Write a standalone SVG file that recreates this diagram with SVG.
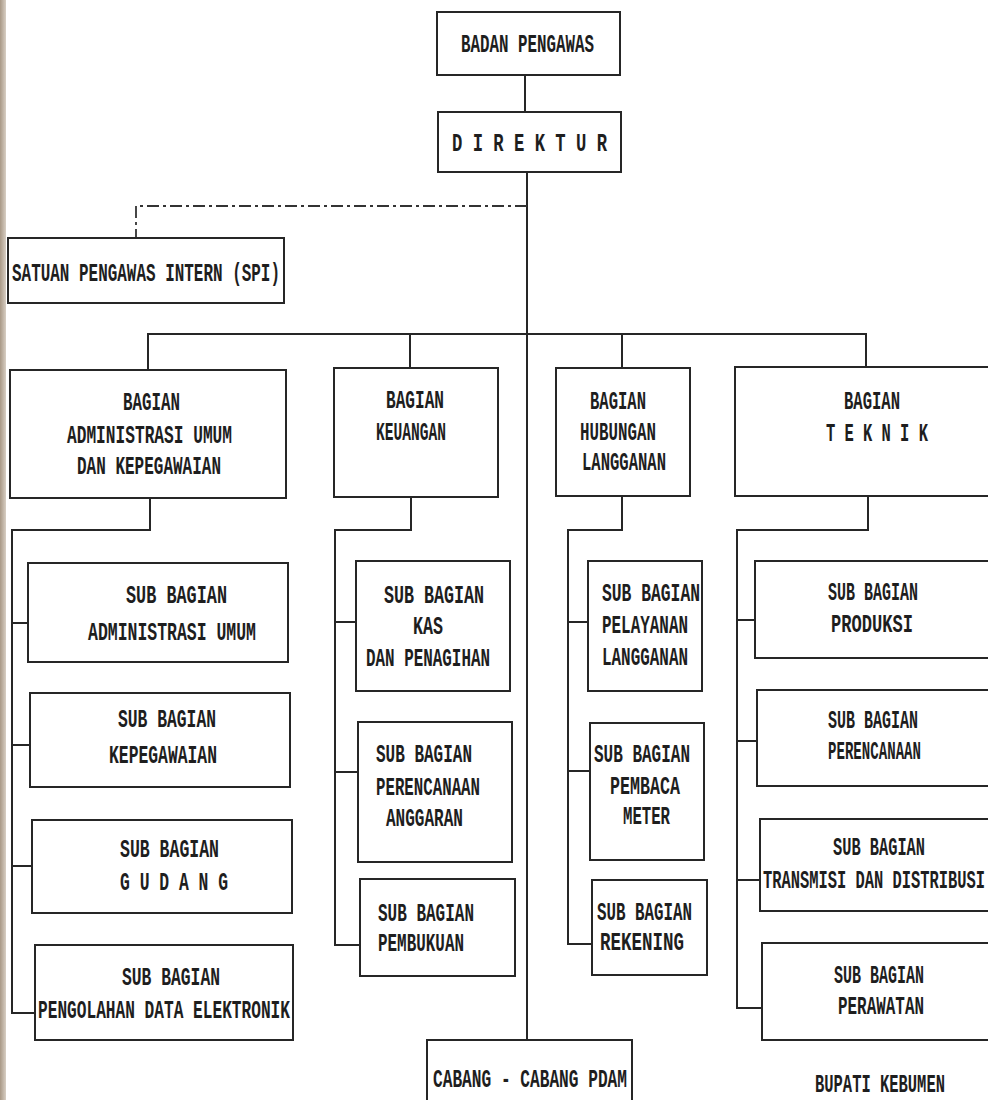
<svg xmlns="http://www.w3.org/2000/svg" width="988" height="1100" viewBox="0 0 988 1100">
<defs>
<linearGradient id="edge" x1="0" y1="0" x2="1" y2="0">
<stop offset="0" stop-color="#a89886"/>
<stop offset="1" stop-color="#d8cfc4"/>
</linearGradient>
</defs>
<style>
.b{fill:#fff;stroke:#262626;stroke-width:2}
.c{fill:none;stroke:#262626;stroke-width:2}
.d{fill:none;stroke:#333;stroke-width:1.8;stroke-dasharray:12 4 3 4}
.t{font-family:"Liberation Mono","DejaVu Sans Mono",monospace;font-weight:bold;font-size:25px;fill:#1e1e1e}
</style>
<rect x="0" y="0" width="988" height="1100" fill="#fff"/>
<rect x="0" y="0" width="6" height="1100" fill="url(#edge)"/>

<g id="connectors">
<line class="c" x1="525" y1="75" x2="525" y2="112"/>
<line class="c" x1="527" y1="172" x2="527" y2="1040"/>
<polyline class="d" points="527,206 136,206 136,238"/>
<polyline class="c" points="148,370 148,334 866,334 866,368"/>
<line class="c" x1="410" y1="334" x2="410" y2="368"/>
<line class="c" x1="622" y1="334" x2="622" y2="368"/>
<polyline class="c" points="150,498 150,530 12,530 12,1013 35,1013"/>
<line class="c" x1="12" y1="623" x2="28" y2="623"/>
<line class="c" x1="12" y1="745" x2="30" y2="745"/>
<line class="c" x1="12" y1="866" x2="32" y2="866"/>
<polyline class="c" points="411,497 411,530 335,530 335,945 360,945"/>
<line class="c" x1="335" y1="622" x2="356" y2="622"/>
<line class="c" x1="335" y1="772" x2="358" y2="772"/>
<polyline class="c" points="622,496 622,530 568,530 568,944 592,944"/>
<line class="c" x1="568" y1="622" x2="588" y2="622"/>
<line class="c" x1="568" y1="771" x2="590" y2="771"/>
<polyline class="c" points="868,496 868,530 737,530 737,1008 762,1008"/>
<line class="c" x1="737" y1="620" x2="755" y2="620"/>
<line class="c" x1="737" y1="741" x2="757" y2="741"/>
<line class="c" x1="737" y1="880" x2="760" y2="880"/>
</g>

<g id="badan-pengawas">
<rect class="b" x="437" y="12" width="183" height="63"/>
<text class="t" x="461" y="52" textLength="133" lengthAdjust="spacingAndGlyphs">BADAN PENGAWAS</text>
</g>
<g id="direktur">
<rect class="b" x="438" y="112" width="183" height="60"/>
<text class="t" x="452" y="151" textLength="155" lengthAdjust="spacingAndGlyphs">D I R E K T U R</text>
</g>
<g id="spi">
<rect class="b" x="8" y="238" width="276" height="65"/>
<text class="t" x="12" y="281" textLength="268" lengthAdjust="spacingAndGlyphs">SATUAN PENGAWAS INTERN (SPI)</text>
</g>

<g id="bagian-adm">
<rect class="b" x="10" y="370" width="276" height="128"/>
<text class="t" x="123" y="410" textLength="57" lengthAdjust="spacingAndGlyphs">BAGIAN</text>
<text class="t" x="67" y="443" textLength="165" lengthAdjust="spacingAndGlyphs">ADMINISTRASI UMUM</text>
<text class="t" x="77" y="474" textLength="144" lengthAdjust="spacingAndGlyphs">DAN KEPEGAWAIAN</text>
</g>
<g id="bagian-keuangan">
<rect class="b" x="334" y="368" width="164" height="129"/>
<text class="t" x="386" y="408" textLength="58" lengthAdjust="spacingAndGlyphs">BAGIAN</text>
<text class="t" x="376" y="440" textLength="70" lengthAdjust="spacingAndGlyphs">KEUANGAN</text>
</g>
<g id="bagian-hubungan">
<rect class="b" x="556" y="368" width="134" height="128"/>
<text class="t" x="590" y="409" textLength="56" lengthAdjust="spacingAndGlyphs">BAGIAN</text>
<text class="t" x="580" y="440" textLength="76" lengthAdjust="spacingAndGlyphs">HUBUNGAN</text>
<text class="t" x="582" y="470" textLength="84" lengthAdjust="spacingAndGlyphs">LANGGANAN</text>
</g>
<g id="bagian-teknik">
<path class="b" d="M988,367 H735 V496 H988"/>
<text class="t" x="844" y="409" textLength="56" lengthAdjust="spacingAndGlyphs">BAGIAN</text>
<text class="t" transform="translate(826,441) scale(0.618,1)" x="0" y="0">T E K N I K</text>
</g>

<g id="sub-adm-umum">
<rect class="b" x="28" y="563" width="260" height="99"/>
<text class="t" x="126" y="603" textLength="101" lengthAdjust="spacingAndGlyphs">SUB BAGIAN</text>
<text class="t" x="88" y="640" textLength="168" lengthAdjust="spacingAndGlyphs">ADMINISTRASI UMUM</text>
</g>
<g id="sub-kepegawaian">
<rect class="b" x="30" y="693" width="260" height="94"/>
<text class="t" x="118" y="727" textLength="98" lengthAdjust="spacingAndGlyphs">SUB BAGIAN</text>
<text class="t" x="109" y="763" textLength="108" lengthAdjust="spacingAndGlyphs">KEPEGAWAIAN</text>
</g>
<g id="sub-gudang">
<rect class="b" x="32" y="820" width="260" height="93"/>
<text class="t" x="120" y="857" textLength="99" lengthAdjust="spacingAndGlyphs">SUB BAGIAN</text>
<text class="t" x="120" y="890" textLength="108" lengthAdjust="spacingAndGlyphs">G U D A N G</text>
</g>
<g id="sub-pde">
<rect class="b" x="35" y="945" width="258" height="95"/>
<text class="t" x="122" y="985" textLength="98" lengthAdjust="spacingAndGlyphs">SUB BAGIAN</text>
<text class="t" x="38" y="1018" textLength="252" lengthAdjust="spacingAndGlyphs">PENGOLAHAN DATA ELEKTRONIK</text>
</g>

<g id="sub-kas">
<rect class="b" x="356" y="561" width="154" height="130"/>
<text class="t" x="384" y="603" textLength="100" lengthAdjust="spacingAndGlyphs">SUB BAGIAN</text>
<text class="t" x="413" y="634" textLength="30" lengthAdjust="spacingAndGlyphs">KAS</text>
<text class="t" x="366" y="666" textLength="124" lengthAdjust="spacingAndGlyphs">DAN PENAGIHAN</text>
</g>
<g id="sub-anggaran">
<rect class="b" x="358" y="722" width="154" height="140"/>
<text class="t" x="376" y="762" textLength="96" lengthAdjust="spacingAndGlyphs">SUB BAGIAN</text>
<text class="t" x="376" y="795" textLength="104" lengthAdjust="spacingAndGlyphs">PERENCANAAN</text>
<text class="t" x="386" y="826" textLength="77" lengthAdjust="spacingAndGlyphs">ANGGARAN</text>
</g>
<g id="sub-pembukuan">
<rect class="b" x="360" y="879" width="155" height="97"/>
<text class="t" x="378" y="921" textLength="96" lengthAdjust="spacingAndGlyphs">SUB BAGIAN</text>
<text class="t" x="378" y="951" textLength="86" lengthAdjust="spacingAndGlyphs">PEMBUKUAN</text>
</g>

<g id="sub-pelayanan">
<rect class="b" x="588" y="561" width="114" height="130"/>
<text class="t" x="602" y="601" textLength="98" lengthAdjust="spacingAndGlyphs">SUB BAGIAN</text>
<text class="t" x="602" y="633" textLength="86" lengthAdjust="spacingAndGlyphs">PELAYANAN</text>
<text class="t" x="602" y="665" textLength="86" lengthAdjust="spacingAndGlyphs">LANGGANAN</text>
</g>
<g id="sub-pembaca">
<rect class="b" x="590" y="723" width="114" height="137"/>
<text class="t" x="594" y="762" textLength="96" lengthAdjust="spacingAndGlyphs">SUB BAGIAN</text>
<text class="t" x="610" y="794" textLength="70" lengthAdjust="spacingAndGlyphs">PEMBACA</text>
<text class="t" x="623" y="824" textLength="47" lengthAdjust="spacingAndGlyphs">METER</text>
</g>
<g id="sub-rekening">
<rect class="b" x="592" y="880" width="115" height="95"/>
<text class="t" x="597" y="920" textLength="95" lengthAdjust="spacingAndGlyphs">SUB BAGIAN</text>
<text class="t" x="600" y="950" textLength="84" lengthAdjust="spacingAndGlyphs">REKENING</text>
</g>

<g id="sub-produksi">
<path class="b" d="M988,561 H755 V658 H988"/>
<text class="t" x="828" y="600" textLength="90" lengthAdjust="spacingAndGlyphs">SUB BAGIAN</text>
<text class="t" x="831" y="632" textLength="82" lengthAdjust="spacingAndGlyphs">PRODUKSI</text>
</g>
<g id="sub-perencanaan">
<path class="b" d="M988,690 H757 V786 H988"/>
<text class="t" x="828" y="728" textLength="90" lengthAdjust="spacingAndGlyphs">SUB BAGIAN</text>
<text class="t" transform="translate(828,759) scale(0.564,1)" x="0" y="0">PERENCANAAN</text>
</g>
<g id="sub-transmisi">
<path class="b" d="M988,819 H760 V911 H988"/>
<text class="t" x="833" y="855" textLength="92" lengthAdjust="spacingAndGlyphs">SUB BAGIAN</text>
<text class="t" transform="translate(763,888) scale(0.617,1)" x="0" y="0">TRANSMISI DAN DISTRIBUSI</text>
</g>
<g id="sub-perawatan">
<path class="b" d="M988,943 H762 V1040 H988"/>
<text class="t" x="834" y="983" textLength="90" lengthAdjust="spacingAndGlyphs">SUB BAGIAN</text>
<text class="t" x="838" y="1014" textLength="86" lengthAdjust="spacingAndGlyphs">PERAWATAN</text>
</g>

<g id="cabang">
<path class="b" d="M427,1100 V1040 H632 V1100"/>
<text class="t" x="433" y="1087" textLength="194" lengthAdjust="spacingAndGlyphs">CABANG - CABANG PDAM</text>
</g>
<text class="t" transform="translate(815,1092) scale(0.619,1)" x="0" y="0">BUPATI KEBUMEN</text>
</svg>
